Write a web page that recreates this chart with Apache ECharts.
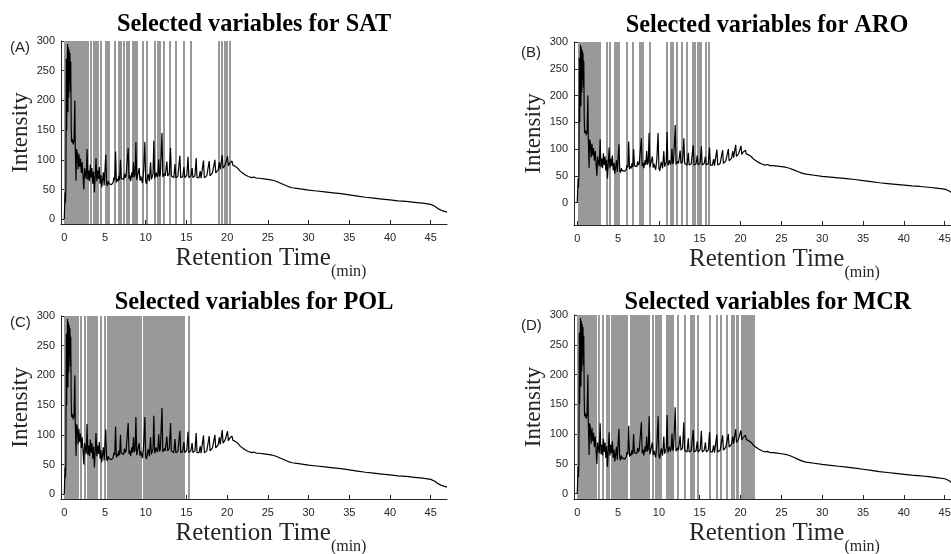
<!DOCTYPE html>
<html>
<head>
<meta charset="utf-8">
<script src="https://cdn.jsdelivr.net/npm/echarts@6/dist/echarts.min.js"></script>
<style>
  html, body { margin: 0; padding: 0; background: #fff; }
  #chart { width: 951px; height: 554px; }
</style>
</head>
<body>
<div id="chart"></div>
<script>
// chromatogram (retention time in min, intensity)
const time = [
  0, 0.05, 0.1, 0.15, 0.2, 0.25, 0.3, 0.35, 0.4, 0.45, 0.5, 0.55, 0.6, 0.65, 0.7, 0.75, 0.8, 0.85, 0.9, 1.0,
  1.1, 1.2, 1.3, 1.35, 1.45, 1.5, 1.6, 1.7, 1.8, 1.9, 2.0, 2.1, 2.2, 2.3, 2.4, 2.5, 2.6, 2.7, 2.8, 2.9,
  3.0, 3.1, 3.2, 3.3, 3.4, 3.5, 3.6, 3.7, 3.8, 3.9, 4.0, 4.1, 4.2, 4.3, 4.4, 4.5, 4.6, 4.7, 4.8, 4.9,
  5.0, 5.1, 5.2, 5.3, 5.4, 5.5, 5.6, 5.7, 5.8, 5.9, 6.0, 6.1, 6.2, 6.3, 6.4, 6.5, 6.6, 6.7, 6.8, 6.9,
  7.0, 7.1, 7.2, 7.3, 7.4, 7.5, 7.6, 7.7, 7.85, 7.95, 8.05, 8.15, 8.3, 8.4, 8.5, 8.6, 8.7, 8.8, 8.9, 9.0,
  9.1, 9.2, 9.3, 9.4, 9.5, 9.6, 9.75, 9.9, 10.0, 10.1, 10.2, 10.3, 10.45, 10.6, 10.7, 10.8, 10.9, 11.0, 11.1, 11.2,
  11.3, 11.4, 11.5, 11.6, 11.7, 11.8, 11.9, 12.0, 12.1, 12.2, 12.3, 12.4, 12.5, 12.6, 12.7, 12.8, 12.9, 13.05, 13.15, 13.3,
  13.45, 13.6, 13.7, 13.8, 13.95, 14.05, 14.2, 14.3, 14.4, 14.55, 14.7, 14.8, 14.9, 15.05, 15.2, 15.3, 15.4, 15.55, 15.7, 15.8,
  15.9, 16.05, 16.2, 16.3, 16.4, 16.55, 16.7, 16.8, 16.95, 17.1, 17.2, 17.35, 17.5, 17.65, 17.8, 17.9, 18.05, 18.2, 18.35, 18.5,
  18.6, 18.75, 18.9, 19.05, 19.15, 19.3, 19.4, 19.5, 19.6, 19.75, 19.9, 20.05, 20.15, 20.3, 20.45, 20.6, 20.7, 20.85, 21.0, 21.15,
  21.3, 21.45, 21.6, 21.75, 21.9, 22.05, 22.2, 22.4, 22.6, 22.8, 23.0, 23.3, 23.6, 24.0, 24.5, 25.0, 25.5, 26.0, 26.5, 27.0,
  27.5, 28.0, 28.5, 29.0, 30.0, 31.0, 32.0, 33.0, 34.0, 35.0, 36.0, 37.0, 38.0, 39.0, 40.0, 41.0, 42.0, 43.0, 44.0, 45.0,
  45.5, 46.0, 46.5, 47.0
];
const intensity = [
  0, 22, 45, 28, 52, 270, 150, 240, 295, 180, 290, 205, 285, 230, 280, 215, 265, 160, 130, 135,
  126, 132, 200, 122, 65, 118, 112, 84, 110, 88, 102, 78, 96, 74, 50, 86, 76, 68, 118, 66,
  82, 64, 92, 70, 86, 60, 80, 45, 72, 103, 64, 82, 68, 88, 60, 74, 54, 66, 79, 57,
  54, 109, 60, 56, 64, 60, 57, 63, 58, 55, 62, 70, 66, 114, 62, 68, 64, 73, 66, 100,
  69, 66, 70, 67, 77, 70, 74, 72, 120, 68, 74, 64, 79, 70, 96, 71, 75, 130, 66, 73,
  70, 86, 65, 72, 75, 61, 82, 130, 64, 59, 68, 76, 64, 96, 67, 72, 76, 132, 69, 74,
  79, 71, 75, 101, 72, 76, 74, 145, 71, 74, 77, 73, 75, 97, 73, 75, 77, 120, 73, 72,
  70, 93, 70, 73, 72, 70, 107, 70, 73, 72, 88, 70, 73, 74, 105, 70, 72, 73, 86, 70,
  72, 73, 103, 70, 71, 70, 81, 69, 71, 99, 70, 72, 73, 75, 98, 73, 76, 78, 79, 100,
  78, 81, 83, 96, 84, 87, 108, 86, 89, 91, 92, 106, 90, 94, 92, 98, 91, 94, 89, 90,
  86, 85, 81, 82, 78, 79, 75, 75, 72, 73, 70, 71, 69, 69, 68, 67, 66, 64, 61, 58,
  55, 53, 52, 51, 49, 47.5, 46, 44.5, 43, 41, 39, 37, 35.5, 34, 32.5, 31, 30, 28.5, 27, 25,
  22, 17, 14, 12
];

// selected variables (retention time, min)
const satVars = [
  0.1, 0.25, 0.4, 0.55, 0.7, 0.85, 1.0, 1.15, 1.3, 1.45, 1.6, 1.75, 1.9, 2.05, 2.2, 2.35,
  2.65, 2.85, 3.2, 3.6, 3.85, 4.15, 4.45, 5.05, 5.3, 5.5, 6.2, 6.65, 6.9, 7.3, 7.7, 7.95,
  8.45, 8.7, 8.95, 9.65, 10.1, 11.1, 11.5, 11.7, 12.2, 12.95, 13.75, 14.65, 15.5,
  18.95, 19.4, 19.75, 20.0, 20.3
];
const aroVars = [
  0.15, 0.3, 0.45, 0.6, 0.75, 0.9, 1.05, 1.2, 1.35, 1.65, 1.8, 1.95, 2.1, 2.35, 2.5, 2.7,
  3.65, 4.0, 4.55, 4.8, 5.05, 6.05, 6.8, 7.6, 7.85, 8.05, 8.85, 11.0, 11.5, 11.7, 12.15,
  12.75, 13.35, 14.2, 14.45, 14.7, 14.95, 15.15, 15.75, 16.1
];
const polVars = [
  0.0, 0.15, 0.3, 0.45, 0.6, 0.75, 0.9, 1.05, 1.2, 1.4, 1.68, 2.08, 2.5, 2.85, 3.0, 3.15,
  3.3, 3.45, 3.8, 3.95, 4.45, 4.95, 5.35, 5.5, 5.65, 5.8, 5.95, 6.1, 6.25, 6.4, 6.55, 6.7,
  6.85, 7.0, 7.15, 7.3, 7.45, 7.6, 7.75, 7.95, 8.1, 8.25, 8.4, 8.55, 8.7, 8.85, 9.0, 9.15,
  9.3, 9.45, 9.75, 9.9, 10.05, 10.2, 10.35, 10.5, 10.65, 10.8, 10.95, 11.1, 11.25, 11.4,
  11.55, 11.7, 11.85, 12.0, 12.15, 12.3, 12.45, 12.6, 12.75, 12.9, 13.05, 13.2, 13.35,
  13.5, 13.65, 13.8, 13.95, 14.1, 14.25, 14.4, 14.55, 14.7, 15.25
];
const mcrVars = [
  0.05, 0.2, 0.35, 0.5, 0.65, 0.8, 0.95, 1.1, 1.25, 1.4, 1.55, 1.7, 1.85, 2.0, 2.15, 2.3,
  2.65, 3.1, 3.55, 3.9, 4.2, 4.4, 4.55, 4.7, 4.85, 5.0, 5.15, 5.5, 5.65, 5.8, 5.95, 6.1,
  6.55, 6.7, 6.85, 7.0, 7.15, 7.4, 7.55, 7.7, 7.85, 8.0, 8.15, 8.3, 8.45, 8.8, 9.25,
  9.6, 9.75, 9.9, 10.05, 10.2, 10.9, 11.05, 11.2, 11.35, 11.5, 11.65, 12.35, 13.15,
  13.95, 14.1, 14.25, 14.75, 16.2, 17.05, 17.55, 18.25, 18.95, 19.15, 19.5, 19.65,
  20.2, 20.35, 20.5, 20.65, 20.8, 20.95, 21.1, 21.25, 21.4, 21.6
];

const xTicks = [0, 5, 10, 15, 20, 25, 30, 35, 40, 45];
const yTicks = [0, 50, 100, 150, 200, 250, 300];

const panels = [
  { title: 'Selected variables for SAT', tag: '(A)', vars: satVars, yMin: -8 },
  { title: 'Selected variables for ARO', tag: '(B)', vars: aroVars, yMin: -42 },
  { title: 'Selected variables for POL', tag: '(C)', vars: polVars, yMin: -8 },
  { title: 'Selected variables for MCR', tag: '(D)', vars: mcrVars, yMin: -9 }
];

// where each panel sits on the page
const layout = [
  { left: 61, top: 41, width: 386, height: 183, titleX: 254, titleY: 13, tagX: 10, tagY: 40 },
  { left: 574, top: 42, width: 387, height: 183, titleX: 767, titleY: 14, tagX: 521, tagY: 45 },
  { left: 61, top: 316, width: 386, height: 183, titleX: 254, titleY: 291, tagX: 10, tagY: 315 },
  { left: 574, top: 315, width: 387, height: 184, titleX: 768, titleY: 291, tagX: 521, tagY: 318 }
];

const chart = echarts.init(document.getElementById('chart'));
const curve = time.map((t, i) => [t, intensity[i]]);

const axisColor = '#262626';
const grid = [], xAxis = [], yAxis = [], series = [], title = [];

panels.forEach((p, i) => {
  const l = layout[i];
  grid.push({ left: l.left, top: l.top, width: l.width, height: l.height, outerBoundsMode: 'none' });
  title.push({
    text: p.title, left: l.titleX, top: l.titleY, textAlign: 'center', padding: 0,
    textStyle: { fontFamily: 'Liberation Serif', fontWeight: 'bold', fontSize: 24.3, color: '#000' }
  });
  title.push({
    text: p.tag, left: l.tagX, top: l.tagY, padding: 0,
    textStyle: { fontFamily: 'Liberation Sans', fontWeight: 'normal', fontSize: 15, color: axisColor }
  });
  xAxis.push({
    type: 'value', gridIndex: i, min: -0.4, max: 47,
    name: '{a|Retention Time}{b|(min)}',
    nameLocation: 'middle', nameGap: 22, nameMoveOverlap: false,
    nameTextStyle: {
      padding: [0, 0, 0, 34],
      rich: {
        a: { fontFamily: 'Liberation Serif', fontSize: 25, color: axisColor, lineHeight: 25, verticalAlign: 'top' },
        b: { fontFamily: 'Liberation Serif', fontSize: 16, color: axisColor, lineHeight: 34, verticalAlign: 'bottom' }
      }
    },
    axisLine: { onZero: false, lineStyle: { color: axisColor } },
    axisTick: { inside: true, length: 4, customValues: xTicks, lineStyle: { color: axisColor } },
    axisLabel: { customValues: xTicks, margin: 8, fontFamily: 'Liberation Sans', fontSize: 11, color: axisColor },
    splitLine: { show: false }
  });
  yAxis.push({
    type: 'value', gridIndex: i, min: p.yMin, max: 300,
    name: 'Intensity', nameLocation: 'middle', nameGap: 29, nameMoveOverlap: false,
    nameTextStyle: { fontFamily: 'Liberation Serif', fontSize: 23, color: axisColor },
    axisLine: { show: true, onZero: false, lineStyle: { color: axisColor } },
    axisTick: { show: true, inside: true, length: 4, customValues: yTicks, lineStyle: { color: axisColor } },
    axisLabel: { customValues: yTicks, margin: 6, fontFamily: 'Liberation Sans', fontSize: 11, color: axisColor },
    splitLine: { show: false }
  });
  series.push({
    type: 'line', xAxisIndex: i, yAxisIndex: i, data: [], z: 1, silent: true,
    markLine: {
      z: 1, silent: true, symbol: ['none', 'none'], label: { show: false },
      emphasis: { disabled: true },
      lineStyle: { color: '#999999', width: 2, type: 'solid', opacity: 1 },
      data: p.vars.map(v => ({ xAxis: v }))
    }
  });
  series.push({
    type: 'line', xAxisIndex: i, yAxisIndex: i, data: curve, z: 10,
    showSymbol: false, symbol: 'none', silent: true,
    lineStyle: { color: '#000', width: 1.2 }
  });
});

chart.setOption({ animation: false, title, grid, xAxis, yAxis, series });
</script>
</body>
</html>
